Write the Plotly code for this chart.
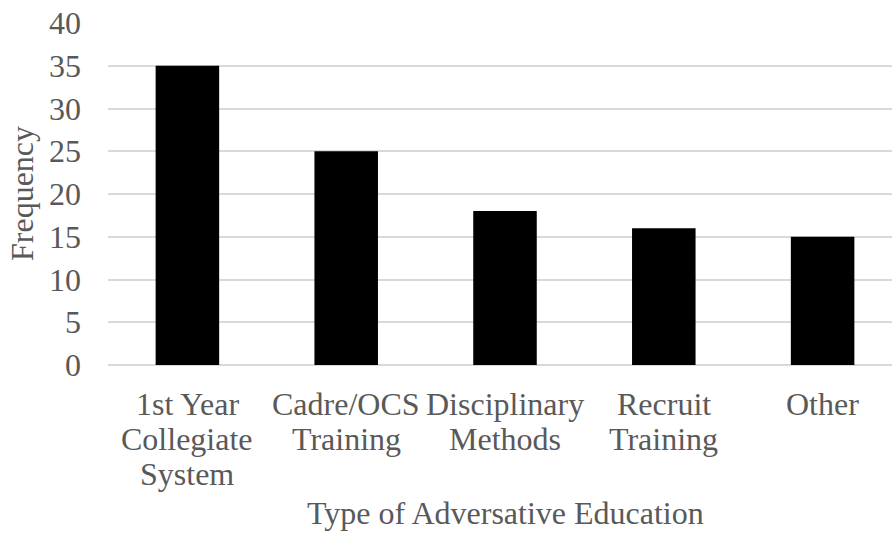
import plotly.graph_objects as go

categories = ["1st Year<br>Collegiate<br>System", "Cadre/OCS<br>Training", "Disciplinary<br>Methods",
              "Recruit<br>Training", "Other"]
frequency = [35, 25, 18, 16, 15]
y_ticks = [0, 5, 10, 15, 20, 25, 30, 35, 40]

FONT = "Liberation Serif, Times New Roman, serif"
GRAY = "#595959"
GRID = "#D9D9D9"
FS = 32

W, H = 892, 535
L, R, T, B = 108, 0, 23, 170
PH = H - T - B
PW = W - L - R


def py(ypix):
    """Convert a page pixel y to paper coordinate."""
    return (H - B - ypix) / PH


fig = go.Figure(go.Bar(x=list(range(len(categories))), y=frequency,
                       marker=dict(color="black", line=dict(width=0))))

fig.update_layout(
    width=W, height=H,
    margin=dict(l=L, r=R, t=T, b=B, pad=0),
    paper_bgcolor="white", plot_bgcolor="white",
    bargap=0.6,
    showlegend=False,
    font=dict(family=FONT, size=FS, color=GRAY),
)
fig.update_xaxes(
    range=[-0.5, 4.437],
    tickmode="array", tickvals=list(range(len(categories))), ticktext=[""] * len(categories),
    showgrid=False, zeroline=False, showline=False, ticks="",
)
fig.update_yaxes(
    range=[0, 40], tickmode="array", tickvals=y_ticks,
    showgrid=True, gridcolor=GRID, gridwidth=1.5,
    zeroline=True, zerolinecolor=GRID, zerolinewidth=1.5,
    showline=False, ticks="",
    ticklabelstandoff=26,
    tickfont=dict(family=FONT, size=FS, color=GRAY),
)

# category labels, one annotation per line for tighter line spacing
LINE0, LINESTEP = 404, 35
for i, cat in enumerate(categories):
    for j, line in enumerate(cat.split("<br>")):
        fig.add_annotation(text=line, xref="x", yref="paper", x=i, y=py(LINE0 + j * LINESTEP),
                           showarrow=False, font=dict(family=FONT, size=FS, color=GRAY),
                           xanchor="center", yanchor="middle")

fig.add_annotation(text="Frequency", xref="paper", yref="paper", x=(22 - L) / PW, y=0.5,
                   showarrow=False, textangle=-90, font=dict(family=FONT, size=FS, color=GRAY),
                   xanchor="center", yanchor="middle")
fig.add_annotation(text="Type of Adversative Education", xref="paper", yref="paper",
                   x=(505 - L) / PW, y=py(513),
                   showarrow=False, font=dict(family=FONT, size=FS, color=GRAY),
                   xanchor="center", yanchor="middle")

fig.write_html("out.html")
